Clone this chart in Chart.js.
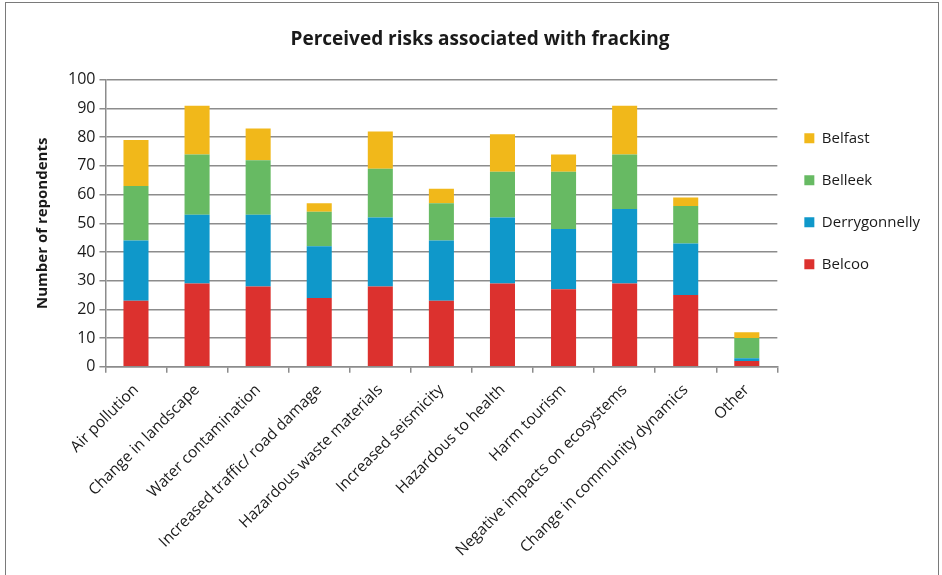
<!DOCTYPE html>
<html>
<head>
<meta charset="utf-8">
<script src="https://cdn.jsdelivr.net/npm/chart.js@4.4.1/dist/chart.umd.min.js"></script>
<style>
  html, body { margin: 0; padding: 0; background: #fff; }
  #frame { position: absolute; left: 5px; top: 2px; width: 934px; height: 620px; border: 1px solid #7a7a7a; box-sizing: border-box; }
  #wrap { position: absolute; left: 0; top: 0; width: 942px; height: 575px; }
</style>
</head>
<body>
<div id="frame"></div>
<div id="wrap"><canvas id="riskChart"></canvas></div>
<script>
const categories = [
  'Air pollution', 'Change in landscape', 'Water contamination', 'Increased traffic/ road damage',
  'Hazardous waste materials', 'Increased seismicity', 'Hazardous to health', 'Harm tourism',
  'Negative impacts on ecosystems', 'Change in community dynamics', 'Other'
];
const belcoo        = [23, 29, 28, 24, 28, 23, 29, 27, 29, 25, 2];
const derrygonnelly = [21, 24, 25, 18, 24, 21, 23, 21, 26, 18, 1];
const belleek       = [19, 21, 19, 12, 17, 13, 16, 20, 19, 13, 7];
const belfast       = [16, 17, 11,  3, 13,  5, 13,  6, 17,  3, 2];
const yTicks = [0, 10, 20, 30, 40, 50, 60, 70, 80, 90, 100];

const fontFam = "'Open Sans', 'Noto Sans', sans-serif";
const axisGray = '#8c8c8c';

const ctx = document.getElementById('riskChart').getContext('2d');

function series(label, data, color) {
    return {
        label: label,
        data: data,
        backgroundColor: color,
        borderWidth: 0,
        categoryPercentage: 0.82,
        barPercentage: 0.5
    };
}

const riskChart = new Chart(ctx, {
    type: 'bar',
    data: {
        labels: categories,
        datasets: [
            series('Belcoo', belcoo, '#dc312e'),
            series('Derrygonnelly', derrygonnelly, '#0f98ca'),
            series('Belleek', belleek, '#67ba63'),
            series('Belfast', belfast, '#f1b81a')
        ]
    },
    options: {
        responsive: true,
        maintainAspectRatio: false,
        animation: false,
        layout: { padding: { left: 30, right: 12, top: 0, bottom: 7 } },
        plugins: {
            title: {
                display: true,
                text: 'Perceived risks associated with fracking',
                color: '#1a1a1a',
                font: { family: fontFam, size: 19, weight: 'bold' },
                padding: { top: 28, bottom: 29 }
            },
            legend: {
                position: 'right',
                align: 'start',
                fullSize: false,
                reverse: true,
                title: { display: true, text: ' ', padding: { top: 12, bottom: 0 }, font: { size: 10 } },
                labels: {
                    color: '#1a1a1a',
                    font: { family: fontFam, size: 15 },
                    boxWidth: 10,
                    boxHeight: 10,
                    padding: 27
                }
            },
            tooltip: { enabled: false }
        },
        scales: {
            x: {
                stacked: true,
                offset: true,
                grid: { offset: true, drawOnChartArea: false, drawTicks: true, tickLength: 6, color: axisGray, lineWidth: 1.5 },
                border: { color: axisGray, width: 1.5 },
                ticks: {
                    color: '#1a1a1a',
                    font: { family: fontFam, size: 15.5 },
                    minRotation: 45,
                    maxRotation: 45,
                    autoSkip: false,
                    padding: 8
                }
            },
            y: {
                stacked: true,
                min: 0,
                max: 100,
                afterBuildTicks: (axis) => { axis.ticks = yTicks.map(v => ({ value: v })); },
                grid: { color: axisGray, lineWidth: 1.5, tickLength: 6 },
                border: { color: axisGray, width: 1.5 },
                ticks: { color: '#1a1a1a', font: { family: fontFam, size: 16 }, padding: 4 },
                title: {
                    display: true,
                    text: 'Number of repondents',
                    color: '#1a1a1a',
                    font: { family: fontFam, size: 15, weight: 'bold' },
                    padding: { bottom: 12 }
                }
            }
        }
    }
});
</script>
</body>
</html>
